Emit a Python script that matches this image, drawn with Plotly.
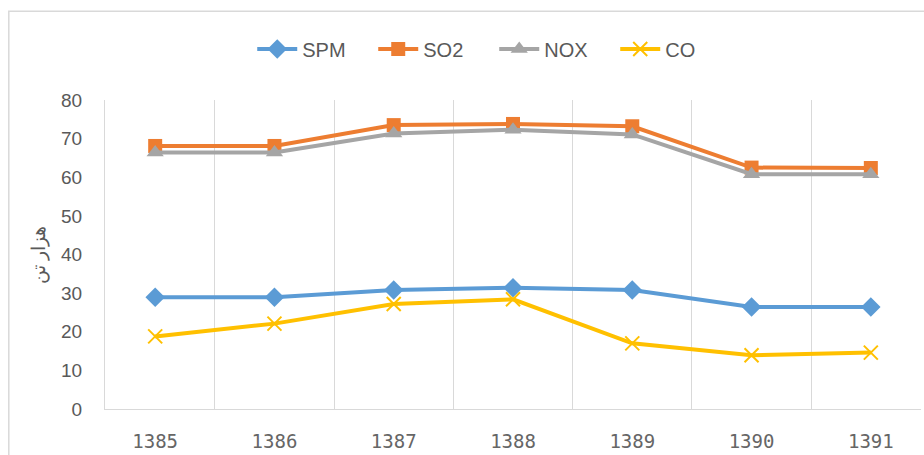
import plotly.graph_objects as go

years = ["1385", "1386", "1387", "1388", "1389", "1390", "1391"]
spm = [28.9, 28.9, 30.8, 31.4, 30.8, 26.4, 26.4]
so2 = [68.1, 68.1, 73.5, 73.8, 73.2, 62.5, 62.4]
nox = [66.4, 66.4, 71.3, 72.3, 71.1, 60.8, 60.8]
co = [18.8, 22.1, 27.2, 28.4, 17.0, 13.9, 14.6]
y_title = "هزار تن"

fig = go.Figure()
fig.add_trace(go.Scatter(x=years, y=spm, name="SPM", mode="lines+markers",
                         line=dict(color="#5B9BD5", width=4),
                         marker=dict(symbol="diamond", size=15, color="#5B9BD5")))
fig.add_trace(go.Scatter(x=years, y=so2, name="SO2", mode="lines+markers",
                         line=dict(color="#ED7D31", width=4),
                         marker=dict(symbol="square", size=14, color="#ED7D31")))
fig.add_trace(go.Scatter(x=years, y=nox, name="NOX", mode="lines+markers",
                         line=dict(color="#A5A5A5", width=4),
                         marker=dict(symbol="triangle-up", size=15, color="#A5A5A5")))
fig.add_trace(go.Scatter(x=years, y=co, name="CO", mode="lines+markers",
                         line=dict(color="#FFC000", width=4),
                         marker=dict(symbol="x-thin", size=14,
                                     line=dict(color="#FFC000", width=2), color="#FFC000")))

fig.update_layout(
    width=924, height=455, autosize=False,
    margin=dict(l=105, r=3, t=100, b=44),
    paper_bgcolor="white", plot_bgcolor="white",
    font=dict(family="Liberation Sans, Arial, sans-serif", color="#595959"),
    showlegend=True,
    legend=dict(orientation="h", x=0.477, xanchor="center", y=1.165, yanchor="middle",
                font=dict(size=20, color="#595959"), itemwidth=40,
                entrywidth=66, entrywidthmode="pixels", traceorder="normal"),
    xaxis=dict(type="category", tickson="boundaries", showgrid=True, gridcolor="#D9D9D9",
               gridwidth=1, showline=True, linecolor="#D9D9D9", linewidth=1,
               ticks="", tickfont=dict(size=19, color="#666666",
                                       family="DejaVu Sans Mono, monospace"),
               ticklabelstandoff=15, zeroline=False),
    yaxis=dict(range=[0, 80], dtick=10, showgrid=False, showline=True, linecolor="#D9D9D9",
               linewidth=1, ticks="", tickfont=dict(size=19, color="#595959"),
               ticklabelstandoff=18, zeroline=False),
    annotations=[dict(text=y_title, textangle=-90, xref="paper", yref="paper",
                      x=-0.08, y=0.497, xanchor="center", yanchor="middle", showarrow=False,
                      font=dict(size=19, color="#595959"))],
    shapes=[dict(type="rect", xref="paper", yref="paper",
                 x0=-0.1179, x1=1.03, y0=-0.3, y1=1.287,
                 line=dict(color="#D9D9D9", width=1.5), fillcolor="rgba(0,0,0,0)",
                 layer="below")],
)

fig.write_html("out.html", config={"displayModeBar": False},
               post_script="document.body.style.margin='0';document.body.style.overflow='hidden';")
